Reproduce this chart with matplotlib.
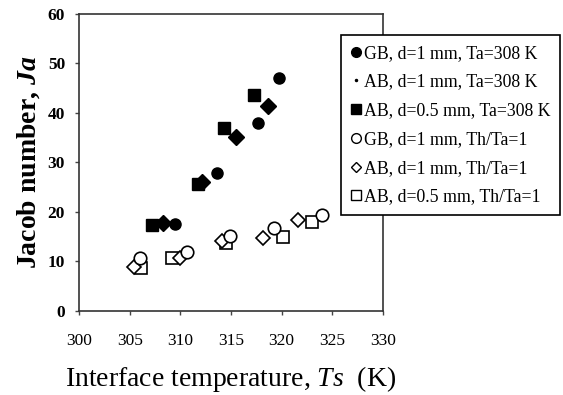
import matplotlib.pyplot as plt
from matplotlib.lines import Line2D

plt.rcParams['font.family'] = ['Liberation Serif', 'DejaVu Serif']
plt.rcParams['mathtext.fontset'] = 'custom'
plt.rcParams['mathtext.it'] = 'Liberation Serif:italic'
plt.rcParams['mathtext.bf'] = 'Liberation Serif:bold'
plt.rcParams['mathtext.bfit'] = 'Liberation Serif:bold:italic'

# GB, d=1 mm, Ta=308 K
gb_ta_x = [309.5, 313.6, 317.7, 319.7]
gb_ta_y = [17.6, 27.8, 37.9, 47.1]
# AB, d=1 mm, Ta=308 K
ab1_ta_x = [308.3, 312.1, 315.5, 318.7]
ab1_ta_y = [17.8, 26.1, 35.2, 41.4]
# AB, d=0.5 mm, Ta=308 K
ab05_ta_x = [307.2, 311.7, 314.3, 317.3]
ab05_ta_y = [17.3, 25.6, 36.9, 43.6]
# GB, d=1 mm, Th/Ta=1
gb_th_x = [306.0, 310.7, 314.9, 319.2, 324.0]
gb_th_y = [10.8, 12.0, 15.2, 16.8, 19.4]
# AB, d=1 mm, Th/Ta=1
ab1_th_x = [305.4, 310.0, 314.1, 318.2, 321.6]
ab1_th_y = [8.8, 10.8, 14.2, 14.7, 18.4]
# AB, d=0.5 mm, Th/Ta=1
ab05_th_x = [306.1, 309.2, 314.5, 320.1, 323.0]
ab05_th_y = [8.7, 10.8, 13.7, 15.0, 18.0]

labels = ['GB, d=1 mm, Ta=308 K', 'AB, d=1 mm, Ta=308 K', 'AB, d=0.5 mm, Ta=308 K',
          'GB, d=1 mm, Th/Ta=1', 'AB, d=1 mm, Th/Ta=1', 'AB, d=0.5 mm, Th/Ta=1']

fig = plt.figure(figsize=(5.63, 3.95), dpi=100)
ax = fig.add_axes([0.1403, 0.2127, 0.54, 0.752])

ax.plot(ab05_th_x, ab05_th_y, 's', ms=8, mfc='white', mec='black', mew=1.2)
ax.plot(ab1_th_x, ab1_th_y, 'D', ms=7.5, mfc='white', mec='black', mew=1.2)
ax.plot(gb_th_x, gb_th_y, 'o', ms=9, mfc='white', mec='black', mew=1.2)
ax.plot(gb_ta_x, gb_ta_y, 'o', ms=8, color='black')
ax.plot(ab1_ta_x, ab1_ta_y, 'D', ms=8, color='black')
ax.plot(ab05_ta_x, ab05_ta_y, 's', ms=8, color='black')

ax.set_xlim(300, 330)
ax.set_ylim(0, 60)
ax.set_xticks(range(300, 331, 5))
ax.set_yticks(range(0, 61, 10))
for s in ax.spines.values():
    s.set_color('#333333')
    s.set_linewidth(1.2)
ax.tick_params(direction='out', length=3, width=1, color='#444444', labelsize=12.5)
ax.tick_params(axis='x', pad=13)
ax.tick_params(axis='y', pad=7)
for lab in ax.get_yticklabels():
    lab.set_fontweight('bold')

ax.set_xlabel('Interface temperature, $\\mathit{Ts}$  (K)', fontsize=20, labelpad=11)
ax.set_ylabel('Jacob number, $\\mathbfit{Ja}$', fontsize=20, fontweight='bold', labelpad=4)

handles = [
    Line2D([], [], ls='', marker='o', ms=7, color='black'),
    Line2D([], [], ls='', marker='.', ms=3, color='black'),
    Line2D([], [], ls='', marker='s', ms=6.5, color='black'),
    Line2D([], [], ls='', marker='o', ms=7, mfc='white', mec='black', mew=1),
    Line2D([], [], ls='', marker='D', ms=5.5, mfc='white', mec='black', mew=1),
    Line2D([], [], ls='', marker='s', ms=7, mfc='white', mec='black', mew=1),
]
leg = ax.legend(handles, labels, loc='upper left', bbox_to_anchor=(0.862, 0.929),
                fontsize=12.8, frameon=True, fancybox=False,
                handlelength=0.6, handletextpad=0.15, labelspacing=0.66,
                borderpad=0.55, borderaxespad=0, framealpha=1)
leg.get_frame().set_edgecolor('black')
leg.get_frame().set_linewidth(1.2)

fig.savefig('out.png', dpi=100)
